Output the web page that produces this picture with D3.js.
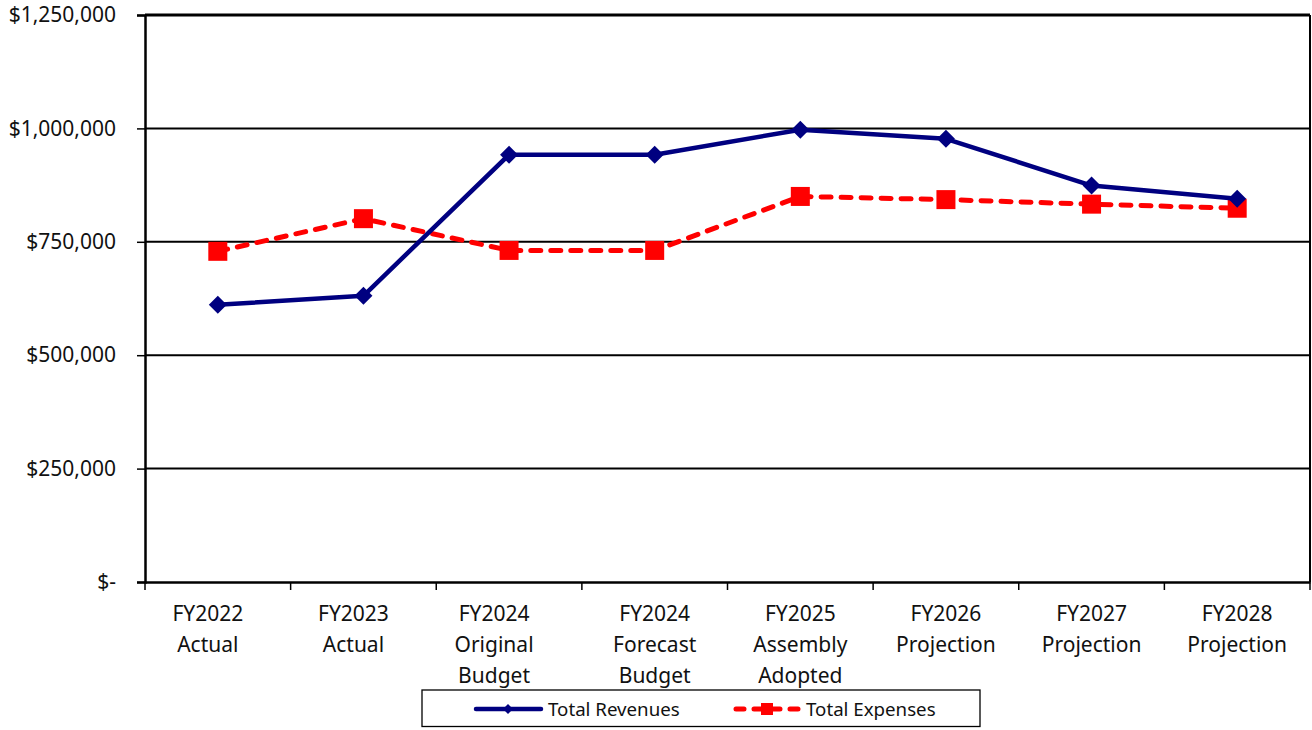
<!DOCTYPE html>
<html>
<head>
<meta charset="utf-8">
<script src="https://cdn.jsdelivr.net/npm/d3@7"></script>
<style>
  html, body { margin: 0; padding: 0; background: #fff; }
  svg { display: block; font-family: "Noto Sans", "Open Sans", sans-serif; }
</style>
</head>
<body>
<svg id="chart" width="1312" height="730"></svg>
<script>
// ---- data ----
const categories = [
  ["FY2022", "Actual"],
  ["FY2023", "Actual"],
  ["FY2024", "Original", "Budget"],
  ["FY2024", "Forecast", "Budget"],
  ["FY2025", "Assembly", "Adopted"],
  ["FY2026", "Projection"],
  ["FY2027", "Projection"],
  ["FY2028", "Projection"]
];
const totalRevenues = [611000, 631000, 942000, 942000, 997000, 977000, 874000, 845000];
const totalExpenses = [729000, 801000, 731000, 731000, 850000, 843000, 833000, 824000];
const yTicks = [0, 250000, 500000, 750000, 1000000, 1250000];
const seriesNames = ["Total Revenues", "Total Expenses"];

// ---- layout ----
const svg = d3.select("#chart");
const pLeft = 145, pRight = 1310, pTop = 15, pBottom = 582;

const x = d3.scaleBand().domain(d3.range(categories.length)).range([pLeft, pRight]);
const y = d3.scaleLinear().domain([0, 1250000]).range([pBottom, pTop]);

const fmt = v => v === 0 ? "$-" : "$" + d3.format(",")(v);

// gridlines
svg.append("g").selectAll("line").data(yTicks.filter(d => d > 0)).join("line")
  .attr("x1", pLeft).attr("x2", pRight)
  .attr("y1", d => y(d)).attr("y2", d => y(d))
  .attr("stroke", "#000").attr("stroke-width", d => d === 1250000 ? 3 : 2);

// right frame
svg.append("line").attr("x1", pRight).attr("x2", pRight).attr("y1", pTop).attr("y2", pBottom)
  .attr("stroke", "#000").attr("stroke-width", 2);

// y axis
const yAxis = d3.axisLeft(y).tickValues(yTicks).tickFormat(fmt).tickSize(8).tickPadding(21);
const gy = svg.append("g").attr("transform", `translate(${pLeft},0)`).call(yAxis);
gy.select(".domain").attr("stroke", "#000").attr("stroke-width", 2.5);
gy.selectAll(".tick line").attr("stroke", "#000").attr("stroke-width", 1.5);
gy.selectAll(".tick text").attr("font-size", 21).attr("fill", "#111")
  .style("font-family", "'Noto Sans', 'Open Sans', sans-serif");

// x axis
const xAxis = d3.axisBottom(x).tickValues([]).tickSizeOuter(0);
const gx = svg.append("g").attr("transform", `translate(0,${pBottom})`).call(xAxis);
gx.select(".domain").attr("stroke", "#000").attr("stroke-width", 2.5);
const boundaries = d3.range(categories.length + 1).map(i => pLeft + i * x.step());
gx.selectAll("line.bt").data(boundaries).join("line").attr("class", "bt")
  .attr("x1", d => d).attr("x2", d => d).attr("y1", 0).attr("y2", 8)
  .attr("stroke", "#000").attr("stroke-width", 1.5);

const labelShift = [-10, -10, -15, 0, 0, 0, 0, 0];
const xl = svg.append("g").attr("font-size", 21).attr("fill", "#111").attr("text-anchor", "middle");
categories.forEach((lines, i) => {
  const t = xl.append("text")
    .attr("x", x(i) + x.bandwidth() / 2 + labelShift[i])
    .attr("y", 621);
  lines.forEach((ln, j) => {
    t.append("tspan").attr("x", x(i) + x.bandwidth() / 2 + labelShift[i])
      .attr("dy", j === 0 ? 0 : 31).text(ln);
  });
});

const cx = i => x(i) + x.bandwidth() / 2;
const line = d3.line().x((d, i) => cx(i)).y(d => y(d));

// expenses
svg.append("path").datum(totalExpenses).attr("d", line)
  .attr("fill", "none").attr("stroke", "#FF0000").attr("stroke-width", 5)
  .attr("stroke-dasharray", "10,10").attr("stroke-linecap", "round");
svg.append("g").selectAll("rect").data(totalExpenses).join("rect")
  .attr("x", (d, i) => cx(i) - 9.5).attr("y", d => y(d) - 9.5)
  .attr("width", 19).attr("height", 19).attr("fill", "#FF0000");

// revenues
svg.append("path").datum(totalRevenues).attr("d", line)
  .attr("fill", "none").attr("stroke", "#000080").attr("stroke-width", 4.5)
  .attr("stroke-linejoin", "round");
svg.append("g").selectAll("path").data(totalRevenues).join("path")
  .attr("transform", (d, i) => `translate(${cx(i)},${y(d)})`)
  .attr("d", "M0,-9L9,0L0,9L-9,0Z").attr("fill", "#000080");

// legend
const lg = svg.append("g");
lg.append("rect").attr("x", 422).attr("y", 690).attr("width", 558).attr("height", 36.5)
  .attr("fill", "#fff").attr("stroke", "#000").attr("stroke-width", 1.3);
const ly = 709;
// revenues entry
lg.append("line").attr("x1", 476).attr("x2", 541).attr("y1", ly).attr("y2", ly)
  .attr("stroke", "#000080").attr("stroke-width", 4.5).attr("stroke-linecap", "round");
lg.append("path").attr("transform", `translate(508,${ly})`).attr("d", "M0,-5L5,0L0,5L-5,0Z")
  .attr("fill", "#000080");
lg.append("text").attr("x", 548).attr("y", ly + 7).attr("font-size", 18.7).attr("fill", "#111")
  .text(seriesNames[0]);
// expenses entry
lg.append("line").attr("x1", 736).attr("x2", 798).attr("y1", ly).attr("y2", ly)
  .attr("stroke", "#FF0000").attr("stroke-width", 5).attr("stroke-dasharray", "8,10")
  .attr("stroke-linecap", "round");
lg.append("rect").attr("x", 761).attr("y", ly - 6).attr("width", 12).attr("height", 12)
  .attr("fill", "#FF0000");
lg.append("text").attr("x", 806).attr("y", ly + 7).attr("font-size", 18.7).attr("fill", "#111")
  .text(seriesNames[1]);
</script>
</body>
</html>
